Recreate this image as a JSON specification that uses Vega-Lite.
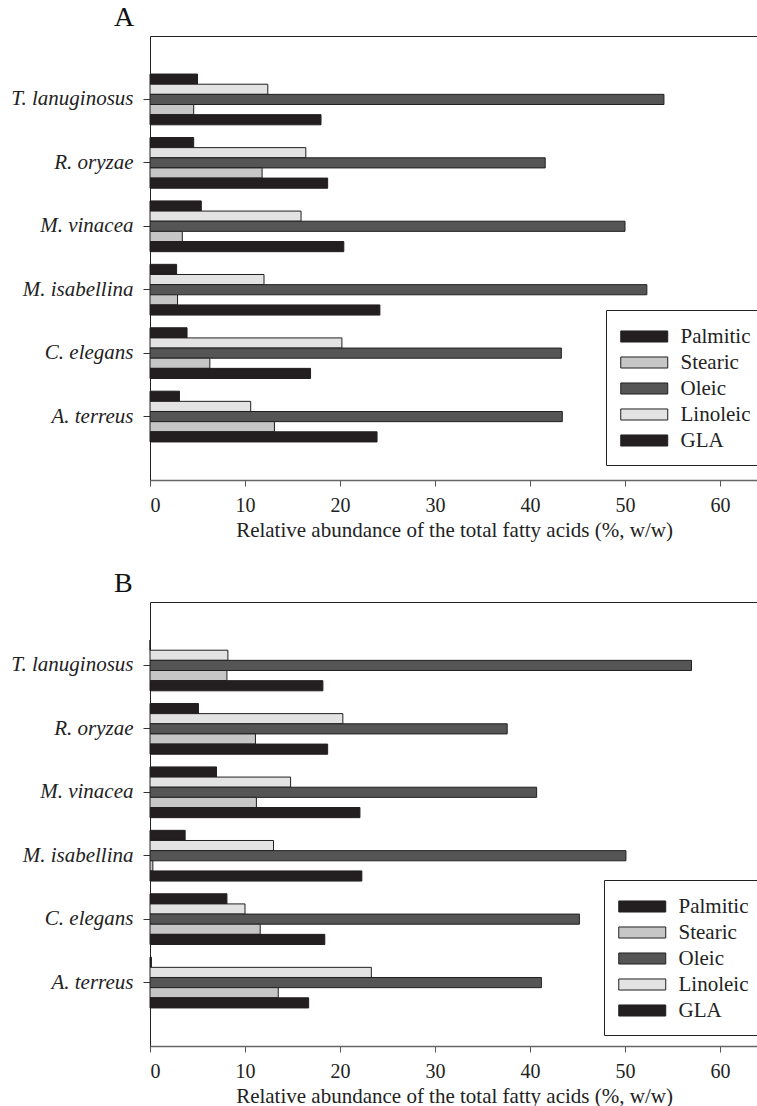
{
  "$schema": "https://vega.github.io/schema/vega-lite/v6.json",
  "padding": {"left": 9, "top": 3, "right": 0, "bottom": 0},
  "background": "white",
  "datasets": {
    "fa": [
      {"panel": "A", "species": "T. lanuginosus", "acid": "GLA", "value": 5.0},
      {"panel": "A", "species": "T. lanuginosus", "acid": "Linoleic", "value": 12.4},
      {"panel": "A", "species": "T. lanuginosus", "acid": "Oleic", "value": 54.1},
      {"panel": "A", "species": "T. lanuginosus", "acid": "Stearic", "value": 4.6},
      {"panel": "A", "species": "T. lanuginosus", "acid": "Palmitic", "value": 18.0},
      {"panel": "A", "species": "R. oryzae", "acid": "GLA", "value": 4.6},
      {"panel": "A", "species": "R. oryzae", "acid": "Linoleic", "value": 16.4},
      {"panel": "A", "species": "R. oryzae", "acid": "Oleic", "value": 41.6},
      {"panel": "A", "species": "R. oryzae", "acid": "Stearic", "value": 11.8},
      {"panel": "A", "species": "R. oryzae", "acid": "Palmitic", "value": 18.7},
      {"panel": "A", "species": "M. vinacea", "acid": "GLA", "value": 5.4},
      {"panel": "A", "species": "M. vinacea", "acid": "Linoleic", "value": 15.9},
      {"panel": "A", "species": "M. vinacea", "acid": "Oleic", "value": 50.0},
      {"panel": "A", "species": "M. vinacea", "acid": "Stearic", "value": 3.4},
      {"panel": "A", "species": "M. vinacea", "acid": "Palmitic", "value": 20.4},
      {"panel": "A", "species": "M. isabellina", "acid": "GLA", "value": 2.8},
      {"panel": "A", "species": "M. isabellina", "acid": "Linoleic", "value": 12.0},
      {"panel": "A", "species": "M. isabellina", "acid": "Oleic", "value": 52.3},
      {"panel": "A", "species": "M. isabellina", "acid": "Stearic", "value": 2.9},
      {"panel": "A", "species": "M. isabellina", "acid": "Palmitic", "value": 24.2},
      {"panel": "A", "species": "C. elegans", "acid": "GLA", "value": 3.9},
      {"panel": "A", "species": "C. elegans", "acid": "Linoleic", "value": 20.2},
      {"panel": "A", "species": "C. elegans", "acid": "Oleic", "value": 43.3},
      {"panel": "A", "species": "C. elegans", "acid": "Stearic", "value": 6.3},
      {"panel": "A", "species": "C. elegans", "acid": "Palmitic", "value": 16.9},
      {"panel": "A", "species": "A. terreus", "acid": "GLA", "value": 3.1},
      {"panel": "A", "species": "A. terreus", "acid": "Linoleic", "value": 10.6},
      {"panel": "A", "species": "A. terreus", "acid": "Oleic", "value": 43.4},
      {"panel": "A", "species": "A. terreus", "acid": "Stearic", "value": 13.1},
      {"panel": "A", "species": "A. terreus", "acid": "Palmitic", "value": 23.9},
      {"panel": "B", "species": "T. lanuginosus", "acid": "GLA", "value": 0},
      {"panel": "B", "species": "T. lanuginosus", "acid": "Linoleic", "value": 8.2},
      {"panel": "B", "species": "T. lanuginosus", "acid": "Oleic", "value": 57.0},
      {"panel": "B", "species": "T. lanuginosus", "acid": "Stearic", "value": 8.1},
      {"panel": "B", "species": "T. lanuginosus", "acid": "Palmitic", "value": 18.2},
      {"panel": "B", "species": "R. oryzae", "acid": "GLA", "value": 5.1},
      {"panel": "B", "species": "R. oryzae", "acid": "Linoleic", "value": 20.3},
      {"panel": "B", "species": "R. oryzae", "acid": "Oleic", "value": 37.6},
      {"panel": "B", "species": "R. oryzae", "acid": "Stearic", "value": 11.1},
      {"panel": "B", "species": "R. oryzae", "acid": "Palmitic", "value": 18.7},
      {"panel": "B", "species": "M. vinacea", "acid": "GLA", "value": 7.0},
      {"panel": "B", "species": "M. vinacea", "acid": "Linoleic", "value": 14.8},
      {"panel": "B", "species": "M. vinacea", "acid": "Oleic", "value": 40.7},
      {"panel": "B", "species": "M. vinacea", "acid": "Stearic", "value": 11.2},
      {"panel": "B", "species": "M. vinacea", "acid": "Palmitic", "value": 22.1},
      {"panel": "B", "species": "M. isabellina", "acid": "GLA", "value": 3.7},
      {"panel": "B", "species": "M. isabellina", "acid": "Linoleic", "value": 13.0},
      {"panel": "B", "species": "M. isabellina", "acid": "Oleic", "value": 50.1},
      {"panel": "B", "species": "M. isabellina", "acid": "Stearic", "value": 0.3},
      {"panel": "B", "species": "M. isabellina", "acid": "Palmitic", "value": 22.3},
      {"panel": "B", "species": "C. elegans", "acid": "GLA", "value": 8.1},
      {"panel": "B", "species": "C. elegans", "acid": "Linoleic", "value": 10.0},
      {"panel": "B", "species": "C. elegans", "acid": "Oleic", "value": 45.2},
      {"panel": "B", "species": "C. elegans", "acid": "Stearic", "value": 11.6},
      {"panel": "B", "species": "C. elegans", "acid": "Palmitic", "value": 18.4},
      {"panel": "B", "species": "A. terreus", "acid": "GLA", "value": 0.15},
      {"panel": "B", "species": "A. terreus", "acid": "Linoleic", "value": 23.3},
      {"panel": "B", "species": "A. terreus", "acid": "Oleic", "value": 41.2},
      {"panel": "B", "species": "A. terreus", "acid": "Stearic", "value": 13.5},
      {"panel": "B", "species": "A. terreus", "acid": "Palmitic", "value": 16.7}
    ]
  },
  "config": {
    "font": "Liberation Serif",
    "view": {"stroke": "#222", "strokeWidth": 1},
    "axis": {
      "labelFont": "Liberation Serif",
      "titleFont": "Liberation Serif",
      "labelColor": "#222",
      "titleColor": "#222",
      "grid": false,
      "labelFontSize": 20,
      "titleFontSize": 21,
      "titleFontWeight": "normal"
    },
    "legend": {
      "orient": "none",
      "strokeColor": "#222",
      "fillColor": "white",
      "padding": 14,
      "symbolType": "M-1,-0.47L3,-0.47L3,0.47L-1,0.47Z",
      "symbolSize": 552,
      "symbolStrokeColor": "#231f20",
      "symbolStrokeWidth": 1,
      "labelFont": "Liberation Serif",
      "labelFontSize": 21,
      "labelColor": "#222",
      "rowPadding": 3,
      "labelOffset": 35.5
    },
    "title": {
      "font": "Liberation Serif",
      "fontSize": 28,
      "fontWeight": "normal",
      "anchor": "start",
      "frame": "group",
      "dx": -36,
      "offset": 0,
      "baseline": "alphabetic",
      "color": "#111"
    }
  },
  "resolve": {"scale": {"color": "independent"}},
  "spacing": 28,
  "vconcat": [
    {
      "title": "A",
      "width": 608,
      "height": 444,
      "data": {"name": "fa"},
      "transform": [{"filter": "datum.panel === 'A'"}],
      "mark": {"type": "bar", "stroke": "#231f20", "strokeWidth": 1},
      "encoding": {
        "y": {
          "field": "species", "type": "nominal",
          "sort": ["T. lanuginosus", "R. oryzae", "M. vinacea", "M. isabellina", "C. elegans", "A. terreus"],
          "scale": {"paddingInner": 0.2, "paddingOuter": 0.6},
          "axis": {"title": null, "labelFontStyle": "italic", "labelFontSize": 21, "tickSize": 7, "labelPadding": 10, "domain": false, "minExtent": 140, "maxExtent": 140, "tickColor": "#333"}
        },
        "yOffset": {
          "field": "acid", "type": "nominal",
          "sort": ["GLA", "Linoleic", "Oleic", "Stearic", "Palmitic"],
          "scale": {"paddingInner": 0, "paddingOuter": 0}
        },
        "x": {
          "field": "value", "type": "quantitative",
          "scale": {"domain": [0, 64], "nice": false},
          "axis": {"title": "Relative abundance of the total fatty acids (%, w/w)", "values": [0, 10, 20, 30, 40, 50, 60], "tickSize": 6, "domainColor": "#666", "domainWidth": 1.5, "tickColor": "#555", "labelPadding": 9, "titlePadding": 4}
        },
        "color": {
          "field": "acid", "type": "nominal",
          "scale": {"domain": ["Palmitic", "Stearic", "Oleic", "Linoleic", "GLA"], "range": ["#231f20", "#c6c6c6", "#555556", "#e3e3e3", "#231f20"]},
          "legend": {"title": null, "legendX": 456, "legendY": 274}
        }
      }
    },
    {
      "title": "B",
      "width": 608,
      "height": 444,
      "data": {"name": "fa"},
      "transform": [{"filter": "datum.panel === 'B'"}],
      "mark": {"type": "bar", "stroke": "#231f20", "strokeWidth": 1},
      "encoding": {
        "y": {
          "field": "species", "type": "nominal",
          "sort": ["T. lanuginosus", "R. oryzae", "M. vinacea", "M. isabellina", "C. elegans", "A. terreus"],
          "scale": {"paddingInner": 0.2, "paddingOuter": 0.6},
          "axis": {"title": null, "labelFontStyle": "italic", "labelFontSize": 21, "tickSize": 7, "labelPadding": 10, "domain": false, "minExtent": 140, "maxExtent": 140, "tickColor": "#333"}
        },
        "yOffset": {
          "field": "acid", "type": "nominal",
          "sort": ["GLA", "Linoleic", "Oleic", "Stearic", "Palmitic"],
          "scale": {"paddingInner": 0, "paddingOuter": 0}
        },
        "x": {
          "field": "value", "type": "quantitative",
          "scale": {"domain": [0, 64], "nice": false},
          "axis": {"title": "Relative abundance of the total fatty acids (%, w/w)", "values": [0, 10, 20, 30, 40, 50, 60], "tickSize": 6, "domainColor": "#666", "domainWidth": 1.5, "tickColor": "#555", "labelPadding": 9, "titlePadding": 4}
        },
        "color": {
          "field": "acid", "type": "nominal",
          "scale": {"domain": ["Palmitic", "Stearic", "Oleic", "Linoleic", "GLA"], "range": ["#231f20", "#c6c6c6", "#555556", "#e3e3e3", "#231f20"]},
          "legend": {"title": null, "legendX": 454, "legendY": 278}
        }
      }
    }
  ]
}
